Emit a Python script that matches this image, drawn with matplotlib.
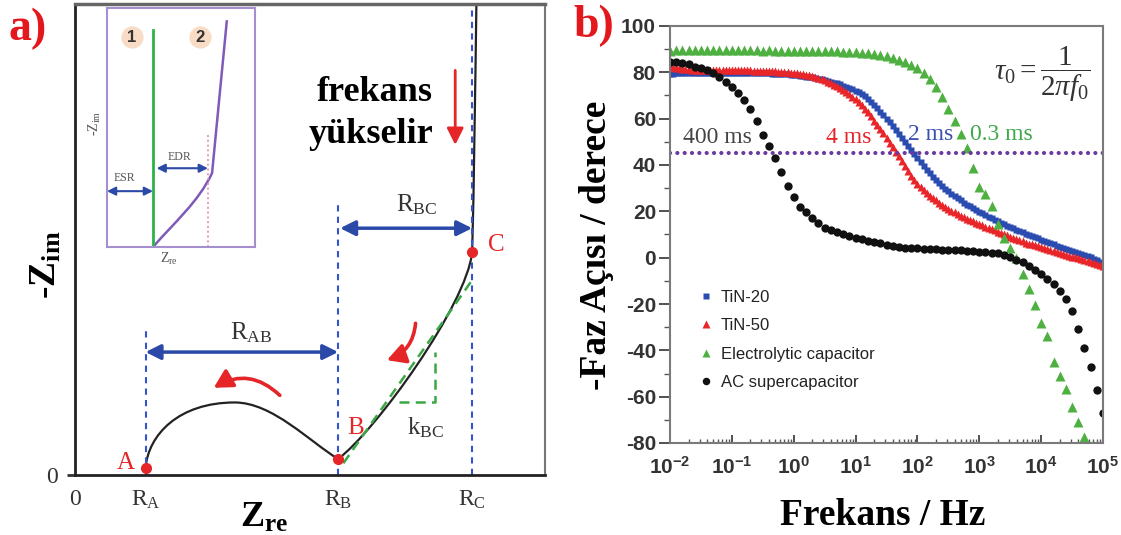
import numpy as np
import matplotlib
matplotlib.use('Agg')
import matplotlib.pyplot as plt
from matplotlib.path import Path
from matplotlib.patches import PathPatch, FancyArrowPatch

plt.rcParams['font.family'] = 'Liberation Serif'
plt.rcParams['mathtext.fontset'] = 'custom'
plt.rcParams['mathtext.rm'] = 'Liberation Serif'
plt.rcParams['mathtext.it'] = 'Liberation Serif:italic'
plt.rcParams['mathtext.bf'] = 'Liberation Serif:bold'
plt.rcParams['mathtext.sf'] = 'Liberation Sans:bold'
plt.rcParams['axes.unicode_minus'] = False

## panel a: Nyquist sketch (arbitrary units 0..100) ##
R_A, R_B, R_C = 15.0, 56.0, 84.5
point_x = [15.0, 56.0, 84.5]
point_y = [1.5, 3.4, 47.3]
# control polygon of the impedance curve (cubic bezier segments)
curve_x = [15.0, 15.6, 22.0, 34.0, 42.0, 50.0, 56.0, 64.0, 83.3, 84.5, 84.9, 85.2, 85.4]
curve_y = [1.5, 8.5, 15.4, 15.4, 15.4, 7.0, 3.4, 9.5, 36.0, 47.3, 62.0, 85.0, 100.0]
slope_x = [57.1, 84.8]
slope_y = [2.5, 41.8]
tri_x = [68.9, 76.5, 76.5]
tri_y = [15.6, 15.6, 26.2]

# inset: ideal capacitor (1) and real one (2)
ideal_x = [31.1, 31.1]
ideal_y = [0.0, 91.0]
real_x = [31.1, 45.0, 62.0, 71.0, 81.0]
real_y = [0.0, 10.0, 19.0, 31.0, 95.0]

## panel b: Bode phase ##
freq_coarse = np.logspace(-2, 5, 71)
freq_fine = np.logspace(-2, 5, 141)

tin20 = [
    79.3, 79.4, 79.5, 79.5, 79.6, 79.5, 79.6, 79.6, 79.7, 79.6, 79.7, 79.7, 79.6, 79.7, 79.7, 79.8, 79.7, 79.8, 79.8, 79.7,
    79.8, 79.8, 79.7, 79.8, 79.8, 79.8, 79.7, 79.7, 79.7, 79.6, 79.6, 79.5, 79.5, 79.4, 79.4, 79.3, 79.2, 79.2, 79.1, 79.0,
    78.9, 78.8, 78.6, 78.4, 78.2, 78.0, 77.8, 77.6, 77.3, 77.0, 76.7, 76.4, 76.0, 75.6, 75.2, 74.8, 74.3, 73.8, 73.2, 72.6,
    72.0, 71.3, 70.5, 69.6, 68.6, 67.4, 66.0, 64.5, 63.0, 61.5, 60.0, 58.4, 56.8, 55.2, 53.5, 51.7, 49.9, 48.1, 46.3, 44.6,
    42.9, 41.2, 39.6, 38.0, 36.5, 35.0, 33.6, 32.3, 31.0, 29.8, 28.7, 27.6, 26.6, 25.6, 24.7, 23.8, 22.9, 22.1, 21.3, 20.5,
    19.8, 19.1, 18.4, 17.7, 17.0, 16.3, 15.7, 15.0, 14.4, 13.8, 13.2, 12.6, 12.0, 11.4, 10.9, 10.3, 9.8, 9.3, 8.8, 8.3,
    7.8, 7.3, 6.8, 6.3, 5.8, 5.2, 4.6, 4.2, 3.8, 3.4, 3.0, 2.6, 2.1, 1.6, 1.1, 0.6, 0.1, -0.5, -1.2, -1.9,
    -2.6]
tin50 = [
    82.5, 82.3, 82.0, 81.8, 81.6, 81.5, 81.3, 81.2, 81.1, 81.0, 81.0, 80.9, 80.9, 80.9, 80.8, 80.8, 80.8, 80.8, 80.8, 80.8,
    80.8, 80.8, 80.8, 80.8, 80.8, 80.8, 80.8, 80.7, 80.7, 80.7, 80.6, 80.6, 80.5, 80.5, 80.4, 80.3, 80.2, 80.1, 80.0, 79.9,
    79.8, 79.6, 79.4, 79.2, 79.0, 78.7, 78.4, 78.0, 77.6, 77.1, 76.6, 76.0, 75.4, 74.7, 74.0, 73.2, 72.4, 71.5, 70.5, 69.5,
    68.4, 67.2, 65.8, 64.3, 62.7, 61.0, 59.2, 57.4, 55.5, 53.6, 51.7, 49.7, 47.7, 45.7, 43.7, 41.7, 39.4, 37.3, 35.3, 33.5,
    31.8, 30.4, 29.1, 27.9, 26.8, 25.7, 24.7, 23.7, 22.8, 21.9, 21.1, 20.3, 19.6, 18.9, 18.2, 17.6, 16.9, 16.3, 15.7, 15.1,
    14.5, 14.0, 13.4, 12.9, 12.3, 11.8, 11.2, 10.7, 10.1, 9.6, 9.0, 8.5, 8.0, 7.5, 7.0, 6.5, 6.1, 5.7, 5.3, 4.9,
    4.5, 4.1, 3.7, 3.3, 2.9, 2.5, 2.1, 1.7, 1.3, 0.9, 0.5, 0.1, -0.3, -0.7, -1.0, -1.4, -1.8, -2.3, -2.8, -3.3,
    -3.8]
electrolytic = [
    89.4, 89.6, 89.5, 89.7, 89.6, 89.5, 89.7, 89.6, 89.5, 89.6,
    89.6, 89.5, 89.6, 89.5, 89.5, 89.4, 89.5, 89.4, 89.4, 89.3,
    89.4, 89.3, 89.3, 89.2, 89.2, 89.1, 89.1, 89.0, 88.9, 88.9,
    88.7, 88.5, 88.2, 87.9, 87.5, 87.0, 86.3, 85.5, 84.6, 83.3,
    81.7, 79.8, 77.2, 73.6, 69.2, 64.2, 58.8, 53.4, 47.3, 38.5,
    30.5, 27.5, 22.5, 14.5, 8.5, 4.0, 0.0, -7.0, -13.5, -20.5,
    -28.0, -34.0, -45.0, -51.0, -56.5, -64.5, -71.0, -77.5]
ac_super = [
    84.5, 84.5, 84.0, 83.5, 82.5, 82.0, 81.0, 79.5, 78.0, 76.0,
    73.5, 71.0, 68.0, 64.0, 59.0, 53.0, 48.0, 43.0, 37.0, 31.0,
    26.0, 22.0, 19.5, 17.0, 15.0, 13.0, 12.0, 11.0, 10.0, 9.3,
    8.6, 8.0, 7.4, 6.8, 6.2, 5.6, 5.0, 4.6, 4.3, 4.1,
    4.0, 3.8, 3.7, 3.6, 3.5, 3.4, 3.2, 3.1, 3.0, 2.8,
    2.6, 2.4, 2.1, 1.8, 1.2, 0.4, -0.8, -2.0, -3.6, -5.5,
    -7.0, -9.0, -11.5, -14.5, -18.0, -23.0, -31.0, -39.0, -47.0, -57.0,
    -67.0]

# characteristic times and where they are written (log10 f, phase)
tau_labels = ['400 ms', '4 ms', '2 ms', '0.3 ms']
tau_pos = [(-1.23, 52), (0.89, 52), (2.22, 53), (3.35, 53)]
tau_colors = ['#444444', '#e52528', '#3a4fb0', '#3ea84a']

red = '#e52528'
blue_dash = '#3355cc'
blue_arrow = '#2b4aa8'
green = '#3aa845'

fig = plt.figure(figsize=(11.21, 5.35), dpi=100)

## ----- panel a ----- ##
ax = fig.add_axes([75 / 1121, 60 / 535, 470 / 1121, 471 / 535])
ax.set_xlim(0, 100)
ax.set_ylim(0, 100)
for side in ['left', 'bottom']:
    ax.spines[side].set_color('#222222')
    ax.spines[side].set_linewidth(2)
ax.spines['top'].set_color('#666666')
ax.spines['top'].set_linewidth(2.5)
ax.spines['right'].set_color('#777777')
ax.spines['right'].set_linewidth(1.5)

ax.set_xticks([0, R_A, R_B, R_C])
ax.set_xticklabels(['0', r'$\mathrm{R_A}$', r'$\mathrm{R_B}$', r'$\mathrm{R_C}$'])
ax.set_yticks([0])
ax.set_yticklabels(['0'])
ax.tick_params(axis='x', length=0, pad=10, labelsize=17, colors='#333333')
ax.tick_params(axis='y', length=6, width=2, pad=6, labelsize=17, colors='#333333')

# dashed guides
ax.plot([R_A, R_A], [0, 30.8], ls=(0, (3, 2.5)), color=blue_dash, lw=1.5)
ax.plot([R_B, R_B], [0, 57.5], ls=(0, (3, 2.5)), color=blue_dash, lw=1.5)
ax.plot([R_C, R_C], [0, 100], ls=(0, (3, 2.5)), color=blue_dash, lw=1.5)

# impedance curve
codes = [Path.MOVETO] + [Path.CURVE4] * (len(curve_x) - 1)
ax.add_patch(PathPatch(Path(np.column_stack([curve_x, curve_y]), codes),
                       fill=False, color='#222222', lw=1.6))

# slope triangle
ax.plot(slope_x, slope_y, ls=(0, (4, 2.5)), color=green, lw=1.8)
ax.plot(tri_x, tri_y, ls=(0, (4, 2.5)), color=green, lw=1.8)

ax.plot(point_x, point_y, 'o', color=red, ms=7, zorder=5, clip_on=False)
ax.text(10.8, 2.5, 'A', color=red, fontsize=18, ha='center', va='center')
ax.text(59.6, 10.0, 'B', color=red, fontsize=18, ha='center', va='center')
ax.text(89.6, 48.8, 'C', color=red, fontsize=18, ha='center', va='center')

# resistance spans
arrow_kw = dict(arrowstyle='<|-|>,head_length=0.9,head_width=0.45', color=blue_arrow,
                lw=2.5, shrinkA=0, shrinkB=0)
ax.annotate('', xy=(R_A, 26.1), xytext=(R_B, 26.1), arrowprops=arrow_kw)
ax.annotate('', xy=(R_B + 0.4, 52.4), xytext=(R_C, 52.4), arrowprops=arrow_kw)
ax.text(37.5, 28.7, r'$\mathrm{R_{AB}}$', fontsize=18, color='#333333', ha='center', va='baseline')
ax.text(72.6, 55.9, r'$\mathrm{R_{BC}}$', fontsize=18, color='#333333', ha='center', va='baseline')
ax.text(74.5, 10.0, r'$\mathrm{k_{BC}}$', fontsize=18, color='#333333', ha='center', va='center')

# frequency direction arrows
ax.add_patch(FancyArrowPatch((44.0, 16.5), (29.0, 18.2), connectionstyle='arc3,rad=0.4',
                             arrowstyle='-|>,head_length=11,head_width=6', color=red, lw=2.6))
ax.add_patch(FancyArrowPatch((72.5, 32.8), (65.8, 24.2), connectionstyle='arc3,rad=-0.35',
                             arrowstyle='-|>,head_length=11,head_width=6', color=red, lw=2.6))
ax.add_patch(FancyArrowPatch((80.9, 86.5), (80.9, 69.5),
                             arrowstyle='-|>,head_length=10,head_width=5', color=red, lw=2))
ax.text(63.8, 81.3, 'frekans', fontsize=26, fontweight='bold', ha='center', va='center')
ax.text(63.0, 72.2, 'yükselir', fontsize=26, fontweight='bold', ha='center', va='center')

# inset
ins = ax.inset_axes([0.068, 0.484, 0.315, 0.507])
ins.set_xlim(0, 100)
ins.set_ylim(0, 100)
ins.set_xticks([])
ins.set_yticks([])
for s in ins.spines.values():
    s.set_color('#a58fd0')
    s.set_linewidth(1.5)
ins.plot(ideal_x, ideal_y, color='#2db34a', lw=2)
rcodes = [Path.MOVETO, Path.CURVE4, Path.CURVE4, Path.CURVE4, Path.LINETO]
ins.add_patch(PathPatch(Path(np.column_stack([real_x, real_y]), rcodes),
                        fill=False, color='#7e5bb8', lw=1.8))
ins.plot([68.2, 68.2], [0, 47], ls=':', color='#e58ab0', lw=1.3)
small_kw = dict(arrowstyle='<|-|>,head_length=0.5,head_width=0.25', color=blue_arrow,
                lw=1.5, shrinkA=0, shrinkB=0)
ins.annotate('', xy=(0, 23.4), xytext=(31.1, 23.4), arrowprops=small_kw)
ins.annotate('', xy=(33.5, 33.0), xytext=(68.2, 33.0), arrowprops=small_kw)
ins.text(12, 29, 'ESR', fontsize=8.5, color='#555555', ha='center', va='center')
ins.text(49, 37.5, 'EDR', fontsize=8.5, color='#555555', ha='center', va='center')
ins.plot([16.9, 62.8], [87.9, 87.9], 'o', ms=16, color='#f8dcc6', mec='none')
ins.text(16.9, 87.9, '1', fontsize=12, fontweight='bold', family='Liberation Sans',
         color='#333333', ha='center', va='center')
ins.text(62.8, 87.9, '2', fontsize=12, fontweight='bold', family='Liberation Sans',
         color='#333333', ha='center', va='center')
ins.text(-8, 52, r'-$\mathrm{Z_{im}}$', fontsize=10, color='#555555', rotation=90,
         ha='center', va='center')
ins.text(42, -5, r'$\mathrm{Z_{re}}$', fontsize=10, color='#555555', ha='center', va='center')

fig.text(46 / 1121, 1 - 265 / 535, r'-$\mathbf{Z_{im}}$', fontsize=27, fontweight='bold',
         rotation=90, ha='center', va='center')
fig.text(264 / 1121, 1 - 527 / 535, r'$\mathbf{Z_{re}}$', fontsize=26, ha='center', va='baseline')
fig.text(8 / 1121, 1 - 8 / 535, 'a)', fontsize=33, fontweight='bold', color='#e3171c',
         ha='left', va='top')

## ----- panel b ----- ##
bx = fig.add_axes([670 / 1121, 92 / 535, 433 / 1121, 417 / 535])
bx.plot(freq_fine, tin20, 's', color='#2a4bb0', ms=5, mec='none', label='TiN-20')
bx.plot(freq_fine, tin50, '^', color='#e8262a', ms=6, mec='none', label='TiN-50')
bx.plot(freq_coarse[:len(electrolytic)], electrolytic, '^', color='#4db040', ms=6.5,
        mec='none', label='Electrolytic capacitor')
bx.plot(freq_coarse, ac_super, 'o', color='#111111', ms=6, mec='none', label='AC supercapacitor')

bx.axhline(45, color='#6a3aa0', lw=3, ls=(0, (0.01, 1.75)), dash_capstyle='round')

for txt, (lx, ly), c in zip(tau_labels, tau_pos, tau_colors):
    bx.text(10 ** lx, ly, txt, fontsize=17, color=c, ha='center', va='center')
bx.text(10 ** 4.02, 79, r'$\tau_0 = \dfrac{1}{2\pi f_0}$', fontsize=21, color='#333333',
        ha='center', va='center')

bx.set_xscale('log')
bx.set_xlim(1e-2, 1e5)
bx.set_ylim(-80, 100)
decades = [-2, -1, 0, 1, 2, 3, 4, 5]
bx.set_xticks([10.0 ** d for d in decades])
bx.set_xticklabels([r'$\mathsf{10^{%d}}$' % d for d in decades])
bx.xaxis.set_minor_locator(matplotlib.ticker.LogLocator(base=10, subs=np.arange(2, 10), numticks=20))
bx.xaxis.set_minor_formatter(matplotlib.ticker.NullFormatter())
bx.set_yticks(np.arange(-80, 101, 20))
bx.set_yticks(np.arange(-70, 100, 20), minor=True)
for lab in bx.get_yticklabels():
    lab.set_family('Liberation Sans')
    lab.set_fontweight('bold')
bx.tick_params(axis='x', which='major', direction='in', length=6, width=1.2, pad=10,
               labelsize=15, colors='#333333')
bx.tick_params(axis='x', which='minor', direction='in', length=3, width=1, colors='#555555')
bx.tick_params(axis='y', which='major', direction='out', length=8, width=1.2, pad=2,
               labelsize=15, colors='#333333')
bx.tick_params(axis='y', which='minor', direction='out', length=4, width=1, colors='#555555')
for s in bx.spines.values():
    s.set_color('#7a7a7a')
    s.set_linewidth(1.5)

leg = bx.legend(loc='upper left', bbox_to_anchor=(0.068, 0.367), frameon=False,
                borderaxespad=0, borderpad=0, handlelength=0.8, handletextpad=0.5,
                labelspacing=0.8, markerscale=0.9,
                prop={'family': 'Liberation Sans', 'size': 12})
for t in leg.get_texts():
    t.set_color('#222222')

fig.text(596 / 1121, 1 - 245 / 535, '-Faz Açısı / derece', fontsize=27, fontweight='bold',
         rotation=90, ha='center', va='center')
fig.text(883 / 1121, 1 - 525 / 535, 'Frekans / Hz', fontsize=27, fontweight='bold',
         ha='center', va='baseline')
fig.text(573 / 1121, 1 - 5 / 535, 'b)', fontsize=33, fontweight='bold', color='#e3171c',
         ha='left', va='top')

fig.savefig('out.png', dpi=100)
